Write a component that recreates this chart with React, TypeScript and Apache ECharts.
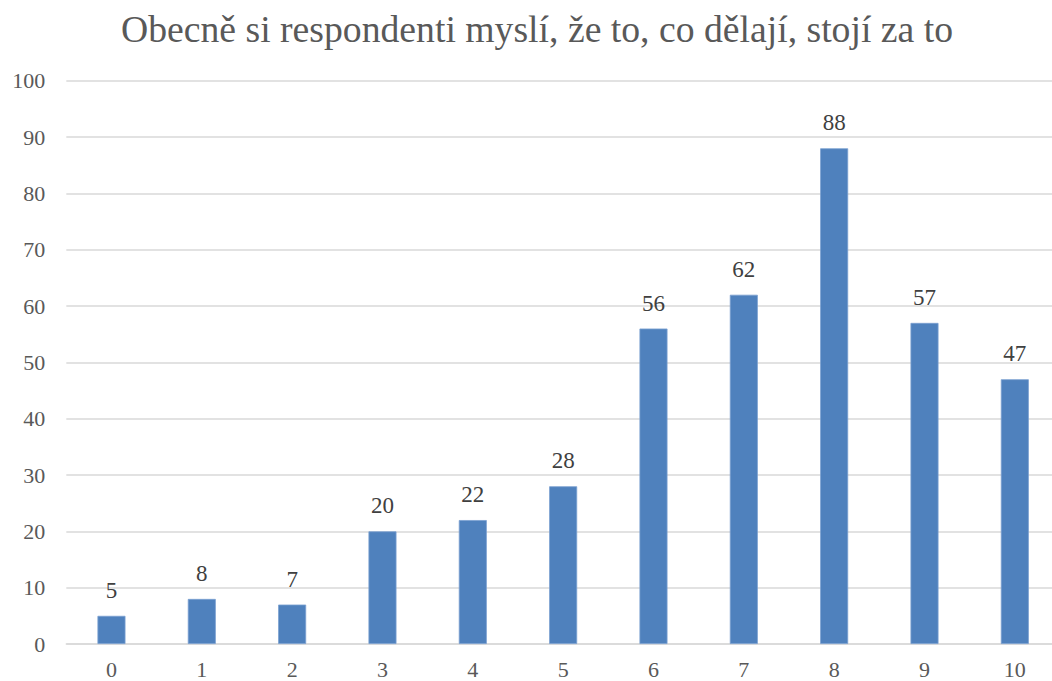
import React, { useEffect, useRef } from "react";
import * as echarts from "echarts";

const categories = ["0", "1", "2", "3", "4", "5", "6", "7", "8", "9", "10"];
const values = [5, 8, 7, 20, 22, 28, 56, 62, 88, 57, 47];
const titleText = "Obecně si respondenti myslí, že to, co dělají, stojí za to";

export default function App() {
  const ref = useRef<HTMLDivElement>(null);
  useEffect(() => {
    if (!ref.current) return;
    const chart = echarts.init(ref.current, null, { renderer: "svg" });
    const font = "Liberation Serif";
    chart.setOption({
      animation: false,
      backgroundColor: "#ffffff",
      title: {
        text: titleText,
        left: 532,
        textAlign: "center",
        top: 5,
        textStyle: { fontFamily: font, fontSize: 37.7, fontWeight: "normal", color: "#595959" },
      },
      grid: { left: 66.3, right: 2, top: 80.7, bottom: 37 },
      xAxis: {
        type: "category",
        data: categories,
        axisLine: { lineStyle: { color: "#d9d9d9", width: 1.5 } },
        axisTick: { show: false },
        axisLabel: { fontFamily: font, fontSize: 22, color: "#595959", margin: 14 },
      },
      yAxis: {
        type: "value",
        min: 0,
        max: 100,
        interval: 10,
        axisLine: { show: false },
        axisTick: { show: false },
        splitLine: { lineStyle: { color: "#d9d9d9", width: 1.5 } },
        axisLabel: { fontFamily: font, fontSize: 22, color: "#595959", margin: 21 },
      },
      series: [
        {
          type: "bar",
          data: values,
          barWidth: 28,
          itemStyle: { color: "#4f81bd", borderColor: "#7aa0d0", borderWidth: 0.8 },
          label: {
            show: true,
            position: "top",
            distance: 14,
            fontFamily: font,
            fontSize: 23,
            color: "#404040",
          },
        },
      ],
    });
    return () => chart.dispose();
  }, []);
  return (
    <div style={{ position: "fixed", left: 0, top: 0, width: 1052, height: 681, overflow: "hidden", background: "#fff" }}>
      <div ref={ref} style={{ width: 1062, height: 681 }} />
    </div>
  );
}
